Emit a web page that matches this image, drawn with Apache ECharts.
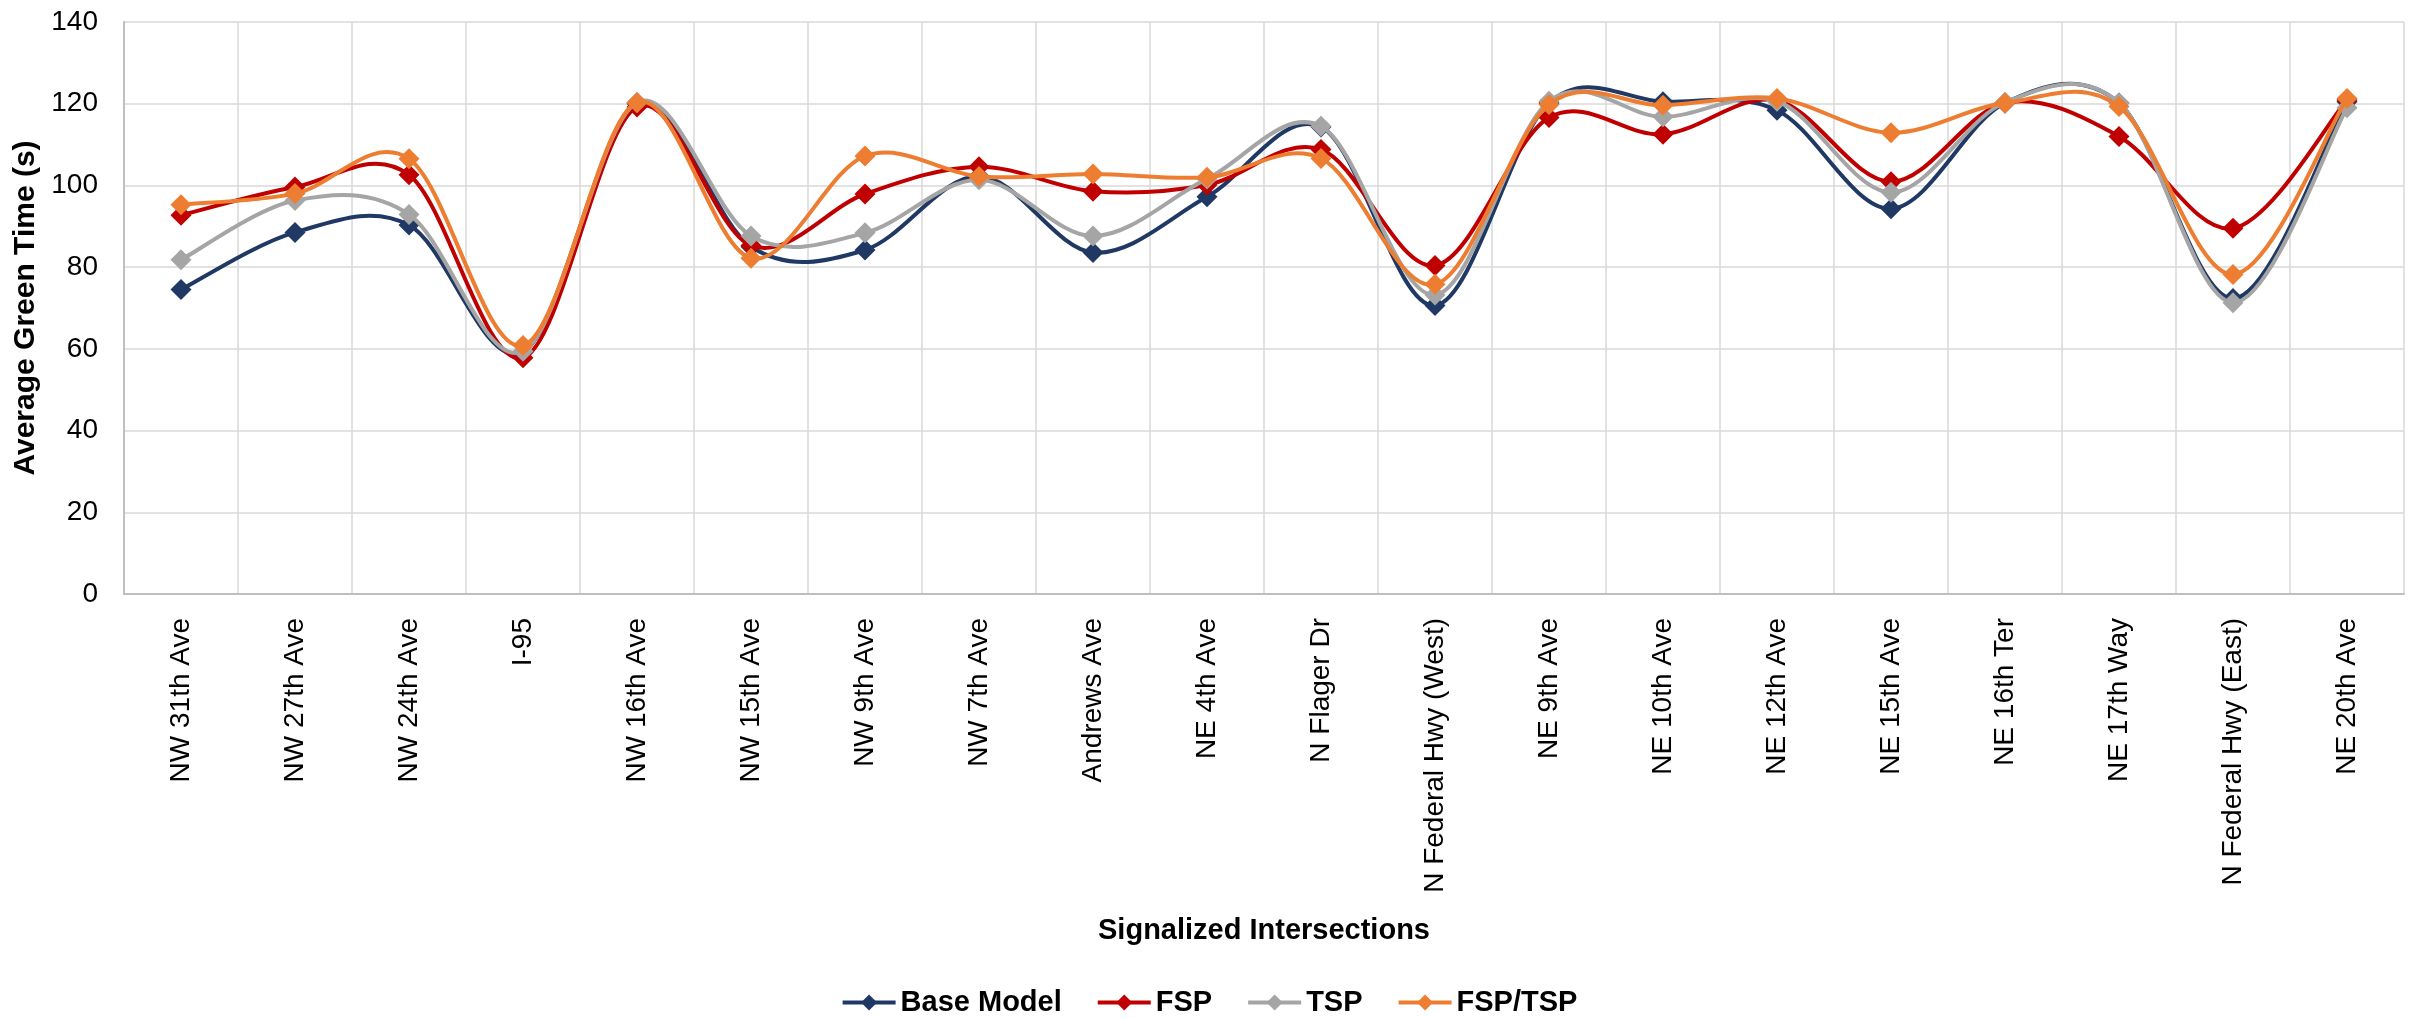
<!DOCTYPE html>
<html>
<head>
<meta charset="utf-8">
<title>Average Green Time by Signalized Intersection</title>
<script src="https://cdn.jsdelivr.net/npm/echarts@6/dist/echarts.min.js"></script>
<style>
  html, body { margin: 0; padding: 0; background: #ffffff; }
  #chart { width: 2418px; height: 1018px; }
</style>
</head>
<body>
<div id="chart"></div>
<script>
// Intersections along the corridor, west to east
const categories = [
  'NW 31th Ave', 'NW 27th Ave', 'NW 24th Ave', 'I-95', 'NW 16th Ave',
  'NW 15th Ave', 'NW 9th Ave', 'NW 7th Ave', 'Andrews Ave', 'NE 4th Ave',
  'N Flager Dr', 'N Federal Hwy (West)', 'NE 9th Ave', 'NE 10th Ave', 'NE 12th Ave',
  'NE 15th Ave', 'NE 16th Ter', 'NE 17th Way', 'N Federal Hwy (East)', 'NE 20th Ave'
];

// Average green time (s) per scenario
const baseModel = [74.5, 88.5, 90.3, 59.2, 120.0, 85.0, 84.2, 102.3, 83.6, 97.2,
                   114.3, 70.6, 120.2, 120.5, 118.4, 94.3, 120.2, 120.2, 72.3, 120.5];
const fsp       = [92.7, 99.6, 102.6, 57.8, 119.2, 85.3, 97.9, 104.6, 98.6, 100.1,
                   108.8, 80.4, 116.6, 112.5, 120.8, 100.9, 120.2, 112.0, 89.5, 120.9];
const tsp       = [81.8, 96.3, 92.9, 59.4, 120.3, 87.6, 88.4, 101.4, 87.6, 101.6,
                   114.5, 73.2, 120.6, 116.8, 120.6, 98.3, 120.3, 120.2, 71.3, 119.0];
const fspTsp    = [95.3, 98.0, 106.5, 60.8, 120.3, 82.2, 107.2, 102.2, 102.8, 102.0,
                   106.6, 75.8, 119.8, 119.6, 121.3, 112.9, 120.2, 119.3, 78.2, 121.3];

// Y-axis ticks
const yTicks = [0, 20, 40, 60, 80, 100, 120, 140];

const seriesNames  = ['Base Model', 'FSP', 'TSP', 'FSP/TSP'];
const seriesValues = [baseModel, fsp, tsp, fspTsp];
const seriesColors = ['#203864', '#C00000', '#A5A5A5', '#ED7D31'];

const FONT = '"Liberation Sans", Arial, Helvetica, sans-serif';
const LINE_W = 4;

// Smoothed segment k -> k+1 (Catmull-Rom style cubic), in pixel space via the axes
function curveSegment(values, color) {
  return function (params, api) {
    const k = params.dataIndex;
    const n = values.length;
    if (k >= n - 1) return null;
    const pt = j => {
      const c = Math.max(0, Math.min(n - 1, j));
      return api.coord([c, values[c]]);
    };
    const p0 = pt(k - 1), p1 = pt(k), p2 = pt(k + 1), p3 = pt(k + 2);
    return {
      type: 'bezierCurve',
      shape: {
        x1: p1[0], y1: p1[1],
        cpx1: p1[0] + (p2[0] - p0[0]) / 6, cpy1: p1[1] + (p2[1] - p0[1]) / 6,
        cpx2: p2[0] - (p3[0] - p1[0]) / 6, cpy2: p2[1] - (p3[1] - p1[1]) / 6,
        x2: p2[0], y2: p2[1]
      },
      style: { stroke: color, lineWidth: LINE_W, fill: null, lineCap: 'round' },
      silent: true
    };
  };
}

// Marker series (also feed the legend)
const markerSeries = seriesNames.map((name, i) => ({
  name: name,
  type: 'line',
  data: seriesValues[i],
  symbol: 'diamond',
  symbolSize: 21,
  color: seriesColors[i],
  lineStyle: { color: seriesColors[i], width: LINE_W, opacity: 0 },
  itemStyle: { color: seriesColors[i] },
  z: 3 + 2 * i
}));

// Curve series
const curveSeries = seriesNames.map((name, i) => ({
  name: name,
  type: 'custom',
  data: seriesValues[i].map((v, k) => [k, v]),
  encode: { x: 0, y: 1 },
  renderItem: curveSegment(seriesValues[i], seriesColors[i]),
  z: 2 + 2 * i
}));

const chart = echarts.init(document.getElementById('chart'), null, { renderer: 'canvas' });

chart.setOption({
  backgroundColor: '#ffffff',
  animation: false,
  grid: { left: 124, right: 14, top: 22, bottom: 424, containLabel: false },
  legend: {
    data: seriesNames,
    left: 'center',
    top: 983,
    itemWidth: 53,
    itemHeight: 20,
    itemGap: 34,
    lineStyle: { opacity: 1, width: LINE_W },
    textStyle: { fontFamily: FONT, fontSize: 29, fontWeight: 'bold', color: '#000000' }
  },
  xAxis: {
    type: 'category',
    data: categories,
    boundaryGap: true,
    name: 'Signalized Intersections',
    nameLocation: 'middle',
    nameGap: 322,
    nameTextStyle: { fontFamily: FONT, fontSize: 29, fontWeight: 'bold', color: '#000000' },
    axisLine: { show: true, lineStyle: { color: '#BFBFBF', width: 2 } },
    axisTick: { show: false },
    splitLine: { show: true, lineStyle: { color: '#D9D9D9', width: 1.5 } },
    axisLabel: {
      interval: 0,
      rotate: 90,
      margin: 24,
      fontFamily: FONT,
      fontSize: 28,
      color: '#000000'
    }
  },
  yAxis: {
    type: 'value',
    min: yTicks[0],
    max: yTicks[yTicks.length - 1],
    interval: yTicks[1] - yTicks[0],
    name: 'Average Green Time (s)',
    nameLocation: 'middle',
    nameGap: 78,
    nameTextStyle: { fontFamily: FONT, fontSize: 30, fontWeight: 'bold', color: '#000000' },
    axisLine: { show: true, lineStyle: { color: '#BFBFBF', width: 2 } },
    axisTick: { show: false },
    splitLine: { show: true, lineStyle: { color: '#D9D9D9', width: 1.5 } },
    axisLabel: { margin: 26, fontFamily: FONT, fontSize: 28, color: '#000000' }
  },
  series: markerSeries.concat(curveSeries)
});
</script>
</body>
</html>
